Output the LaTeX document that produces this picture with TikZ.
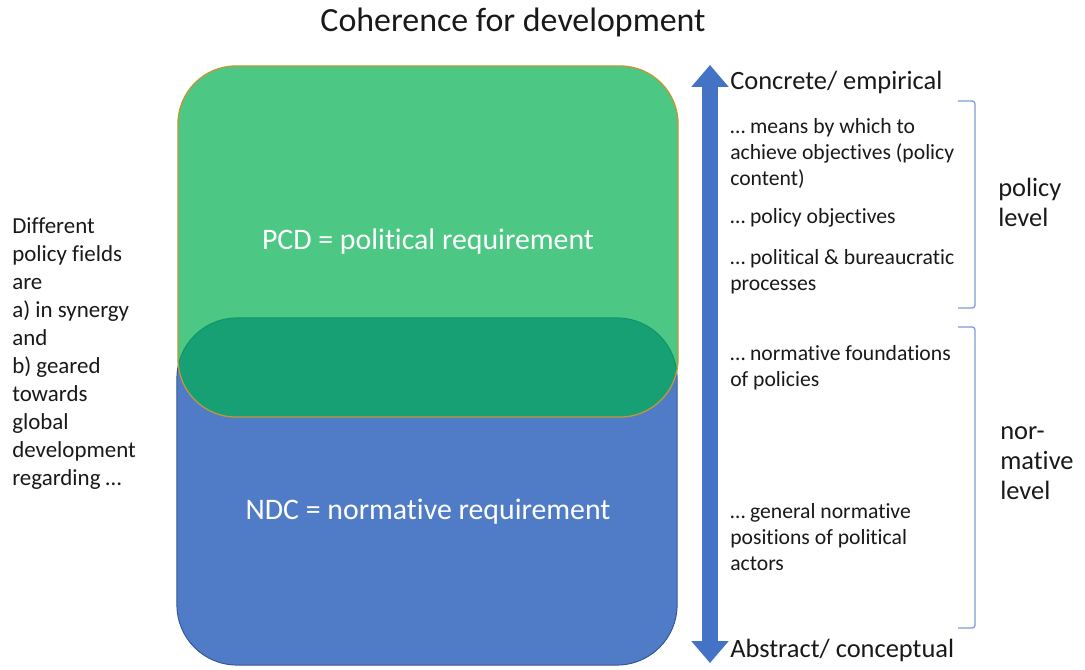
\documentclass[tikz,border=0pt]{standalone}
\usepackage{fontspec}
\setmainfont{Carlito}[Ligatures={NoCommon,NoRare}]
\usetikzlibrary{arrows.meta}
\definecolor{pcdgreen}{RGB}{0,176,80}
\definecolor{pcdedge}{RGB}{196,150,56}
\definecolor{ndcblue}{RGB}{80,124,199}
\definecolor{ndcedge}{RGB}{52,88,150}
\definecolor{axisblue}{RGB}{68,114,196}
\definecolor{bracketblue}{RGB}{125,155,215}
\definecolor{inktext}{RGB}{25,25,25}
\begin{document}
\begin{tikzpicture}
[x=0.025cm, y=-0.025cm,
  boxdecorate/.style={shape=rectangle,minimum width=12.5cm,text=white,%
    font=\fontsize{21.2pt}{25pt}\selectfont},
  notedecorate/.style={anchor=west,align=left,inner sep=0pt,text=inktext,%
    font=\fontsize{15.4pt}{18.5pt}\selectfont},
  poledecorate/.style={anchor=west,align=left,inner sep=0pt,text=inktext,%
    font=\fontsize{18.8pt}{21.3pt}\selectfont},
  bracketdecorate/.style={draw=bracketblue,line width=0.9pt,rounded corners=2pt},
  arrowdecorate/.style={draw=axisblue,line width=11.4pt,%
    arrows={Triangle[width=25.6pt,length=15.6pt]-Triangle[width=25.6pt,length=15.6pt]}}]
\useasboundingbox (0,0) rectangle (1085,670);
%% title
\node (title) at (513,22) [text=inktext,font=\fontsize{24.1pt}{29pt}\selectfont]
  {Coherence for development};
%% the two requirements
\node (ndc) at (427,491.5) [boxdecorate,minimum height=8.675cm,rounded corners=1.5cm,
  fill=ndcblue,draw=ndcedge,line width=0.7pt] {};
\node (ndclabel) at (428,512) [boxdecorate] {NDC = normative requirement};
\node (pcd) at (428,241.5) [boxdecorate,minimum height=8.775cm,rounded corners=1.45cm,
  fill=pcdgreen,fill opacity=0.7,text opacity=1,draw=pcdedge,line width=0.9pt]
  {PCD = political requirement};
%% left text
\node (fields) at (12,353.5) [anchor=west,align=left,inner sep=0pt,text=inktext,
  font=\fontsize{16.3pt}{19.9pt}\selectfont]
  {Different\\policy fields\\are\\a) in synergy\\and\\b) geared\\towards\\global\\development\\regarding …};
%% axis
\coordinate (axtop) at (710,65);
\coordinate (axbot) at (710,663);
\draw[arrowdecorate] (axtop) -- (axbot);
\node (concrete) at (730,82) [poledecorate] {Concrete/ empirical};
\node (abstract) at (730,650) [poledecorate] {Abstract/ conceptual};
%% notes along the axis
\foreach \notename/\y/\notetext in {
  means/153/{… means by which to\\achieve objectives (policy\\content)},
  objectives/218/{… policy objectives},
  processes/271.5/{… political \& bureaucratic\\processes},
  foundations/368/{… normative foundations\\of policies},
  positions/537/{… general normative\\positions of political\\actors}}
{
  \node (\notename) at (730,\y) [notedecorate] {\notetext};
}
%% brackets and levels
\foreach \top/\bot in {101/308, 327/628}
{
  \draw[bracketdecorate] (958,\top) -| (975,\bot) -- (958,\bot);
}
\node (policylevel) at (998,202) [poledecorate] {policy\\level};
\node (normlevel) at (1000,463) [poledecorate] {nor-\\mative\\level};
\end{tikzpicture}
\end{document}
